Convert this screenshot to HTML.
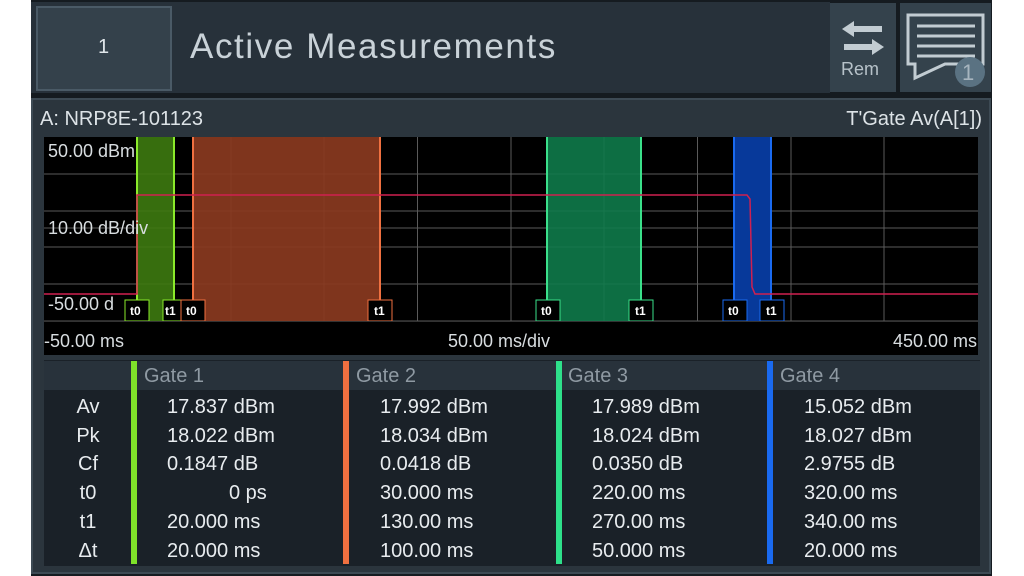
<!DOCTYPE html>
<html><head><meta charset="utf-8"><style>
*{margin:0;padding:0;box-sizing:border-box}
body{width:1024px;height:576px;background:#fff;position:relative;overflow:hidden;font-family:"Liberation Sans",sans-serif}
.a{position:absolute}
.dev{left:31px;top:0;width:961px;height:576px;background:#151b20}
.t{position:absolute;white-space:nowrap;color:#e8ecef}
</style></head><body>
<div class="a dev"></div>
<!-- header -->
<div class="a" style="left:31px;top:2px;width:799px;height:91px;background:#27313a"></div>
<div class="a" style="left:36px;top:6px;width:136px;height:85px;background:#34414b;border:2px solid #4a5a66"></div>
<div class="t" style="left:98px;top:36px;font-size:20px;color:#e0e6ea">1</div>
<div class="t" style="left:190px;top:27px;font-size:35px;color:#c9d2d8;letter-spacing:1.6px">Active Measurements</div>
<div class="a" style="left:830px;top:3px;width:66px;height:89px;background:#34424c"></div>
<svg class="a" style="left:840px;top:20px" width="46" height="36"><polygon points="2,9 14,1 14,6 42,6 42,12 14,12 14,17" fill="#c2ccd2"/><polygon points="44,27 32,19 32,24 4,24 4,30 32,30 32,35" fill="#c2ccd2"/></svg>
<div class="t" style="left:841px;top:59px;font-size:18px;color:#b7c2c9">Rem</div>
<div class="a" style="left:900px;top:3px;width:91px;height:89px;background:#34424c"></div>
<svg class="a" style="left:905px;top:12px" width="82" height="76"><path d="M3,3 H78 V52 H40 L10,66 V52 H3 Z" fill="none" stroke="#c2ccd2" stroke-width="3"/><g stroke="#c2ccd2" stroke-width="3"><line x1="12" y1="14" x2="70" y2="14"/><line x1="12" y1="24" x2="70" y2="24"/><line x1="12" y1="34" x2="70" y2="34"/><line x1="12" y1="44" x2="70" y2="44"/></g><circle cx="65" cy="60" r="15" fill="#5a7282"/></svg>
<div class="t" style="left:962px;top:60px;font-size:22px;color:#a7b5bf">1</div>
<!-- panel -->
<div class="a" style="left:31px;top:98px;width:960px;height:476px;background:#2b353d;border:2px solid #3d4a54"></div>
<div class="t" style="left:40px;top:108px;font-size:20px;color:#dde3e7">A: NRP8E-101123</div>
<div class="t" style="right:42px;top:108px;font-size:20px;color:#dde3e7">T'Gate Av(A[1])</div>
<div class="a" style="left:44px;top:137px;width:934px;height:218px;background:#000"></div>
<svg class="a" style="left:44px;top:137px" width="934" height="218">
<g stroke="#5a5a5a" stroke-width="1">
<line x1="0" y1="37" x2="934" y2="37"/><line x1="0" y1="74" x2="934" y2="74"/><line x1="0" y1="91" x2="934" y2="91"/><line x1="0" y1="110" x2="934" y2="110"/><line x1="0" y1="147" x2="934" y2="147"/><line x1="0" y1="184" x2="934" y2="184"/>
<line x1="93.5" y1="0" x2="93.5" y2="184"/><line x1="187" y1="0" x2="187" y2="184"/><line x1="280" y1="0" x2="280" y2="184"/><line x1="373.5" y1="0" x2="373.5" y2="184"/><line x1="467" y1="0" x2="467" y2="184"/><line x1="560" y1="0" x2="560" y2="184"/><line x1="653.5" y1="0" x2="653.5" y2="184"/><line x1="747" y1="0" x2="747" y2="184"/><line x1="840" y1="0" x2="840" y2="184"/>
</g>
<rect x="93" y="0" width="37" height="184" fill="#3d7a10" fill-opacity="0.9"/>
<line x1="93" y1="0" x2="93" y2="184" stroke="#8aea2a" stroke-width="2"/><line x1="130" y1="0" x2="130" y2="184" stroke="#8aea2a" stroke-width="2"/>
<rect x="149" y="0" width="187" height="184" fill="#8a3a20" fill-opacity="0.92"/>
<line x1="149" y1="0" x2="149" y2="184" stroke="#f07040" stroke-width="2"/><line x1="336" y1="0" x2="336" y2="184" stroke="#f07040" stroke-width="2"/>
<rect x="503" y="0" width="94" height="184" fill="#0e7a4a" fill-opacity="0.9"/>
<line x1="503" y1="0" x2="503" y2="184" stroke="#3ae08a" stroke-width="2"/><line x1="597" y1="0" x2="597" y2="184" stroke="#3ae08a" stroke-width="2"/>
<rect x="690" y="0" width="37" height="184" fill="#07399a"/>
<line x1="690" y1="0" x2="690" y2="184" stroke="#1a6af0" stroke-width="2"/><line x1="727" y1="0" x2="727" y2="184" stroke="#1a6af0" stroke-width="2"/>
<polyline points="0,157 93,157 93,58 703,58 706,62 708,150 711,157 934,157" fill="none" stroke="#d02050" stroke-width="1.5"/>
<g font-size="12" font-weight="bold" fill="#fff" font-family="Liberation Sans">
<rect x="81" y="163" width="24" height="21" fill="#000" stroke="#8aea2a"/><text x="86" y="178">t0</text>
<rect x="119" y="163" width="18" height="21" fill="#000" stroke="#8aea2a"/><text x="121" y="178">t1</text>
<rect x="137" y="163" width="24" height="21" fill="#000" stroke="#f07040"/><text x="142" y="178">t0</text>
<rect x="324" y="163" width="24" height="21" fill="#000" stroke="#f07040"/><text x="330" y="178">t1</text>
<rect x="492" y="163" width="24" height="21" fill="#000" stroke="#3ae08a"/><text x="497" y="178">t0</text>
<rect x="585" y="163" width="24" height="21" fill="#000" stroke="#3ae08a"/><text x="591" y="178">t1</text>
<rect x="679" y="163" width="24" height="21" fill="#000" stroke="#1a6af0"/><text x="684" y="178">t0</text>
<rect x="716" y="163" width="24" height="21" fill="#000" stroke="#1a6af0"/><text x="722" y="178">t1</text>
</g>
<line x1="0" y1="184.5" x2="934" y2="184.5" stroke="#333"/>
</svg>
<div class="t" style="left:48px;top:141px;font-size:18px;color:#d8dde0">50.00 dBm</div>
<div class="t" style="left:48px;top:218px;font-size:18px;color:#d8dde0">10.00 dB/div</div>
<div class="t" style="left:48px;top:294px;font-size:18px;color:#d8dde0">-50.00 d</div>
<div class="t" style="left:44px;top:331px;font-size:18px;color:#d8dde0">-50.00 ms</div>
<div class="t" style="left:448px;top:331px;font-size:18px;color:#d8dde0">50.00 ms/div</div>
<div class="t" style="right:47px;top:331px;font-size:18px;color:#d8dde0">450.00 ms</div>
<!-- table -->
<div class="a" style="left:44px;top:360px;width:936px;height:206px;background:#1a2128"></div>
<div class="a" style="left:44px;top:361px;width:936px;height:29px;background:#28323b"></div>
<div class="a" style="left:131px;top:361px;width:6px;height:203px;background:#7fe22a"></div>
<div class="a" style="left:343px;top:361px;width:6px;height:203px;background:#f07040"></div>
<div class="a" style="left:556px;top:361px;width:6px;height:203px;background:#2ee08a"></div>
<div class="a" style="left:767px;top:361px;width:6px;height:203px;background:#1a6af0"></div>
<div class="t" style="left:144px;top:365px;font-size:20px;color:#8f9aa3">Gate 1</div>
<div class="t" style="left:356px;top:365px;font-size:20px;color:#8f9aa3">Gate 2</div>
<div class="t" style="left:568px;top:365px;font-size:20px;color:#8f9aa3">Gate 3</div>
<div class="t" style="left:780px;top:365px;font-size:20px;color:#8f9aa3">Gate 4</div>
<div class="t" style="left:60px;top:393px;width:56px;text-align:center;font-size:20px;line-height:28.7px">Av<br>Pk<br>Cf<br>t0<br>t1<br>Δt</div>
<div class="t" style="left:167px;top:393px;font-size:20px;line-height:28.7px">17.837 dBm<br>18.022 dBm<br>0.1847 dB<br><span style="padding-left:62px">0 ps</span><br>20.000 ms<br>20.000 ms</div>
<div class="t" style="left:380px;top:393px;font-size:20px;line-height:28.7px">17.992 dBm<br>18.034 dBm<br>0.0418 dB<br>30.000 ms<br>130.00 ms<br>100.00 ms</div>
<div class="t" style="left:592px;top:393px;font-size:20px;line-height:28.7px">17.989 dBm<br>18.024 dBm<br>0.0350 dB<br>220.00 ms<br>270.00 ms<br>50.000 ms</div>
<div class="t" style="left:804px;top:393px;font-size:20px;line-height:28.7px">15.052 dBm<br>18.027 dBm<br>2.9755 dB<br>320.00 ms<br>340.00 ms<br>20.000 ms</div>
</body></html>
